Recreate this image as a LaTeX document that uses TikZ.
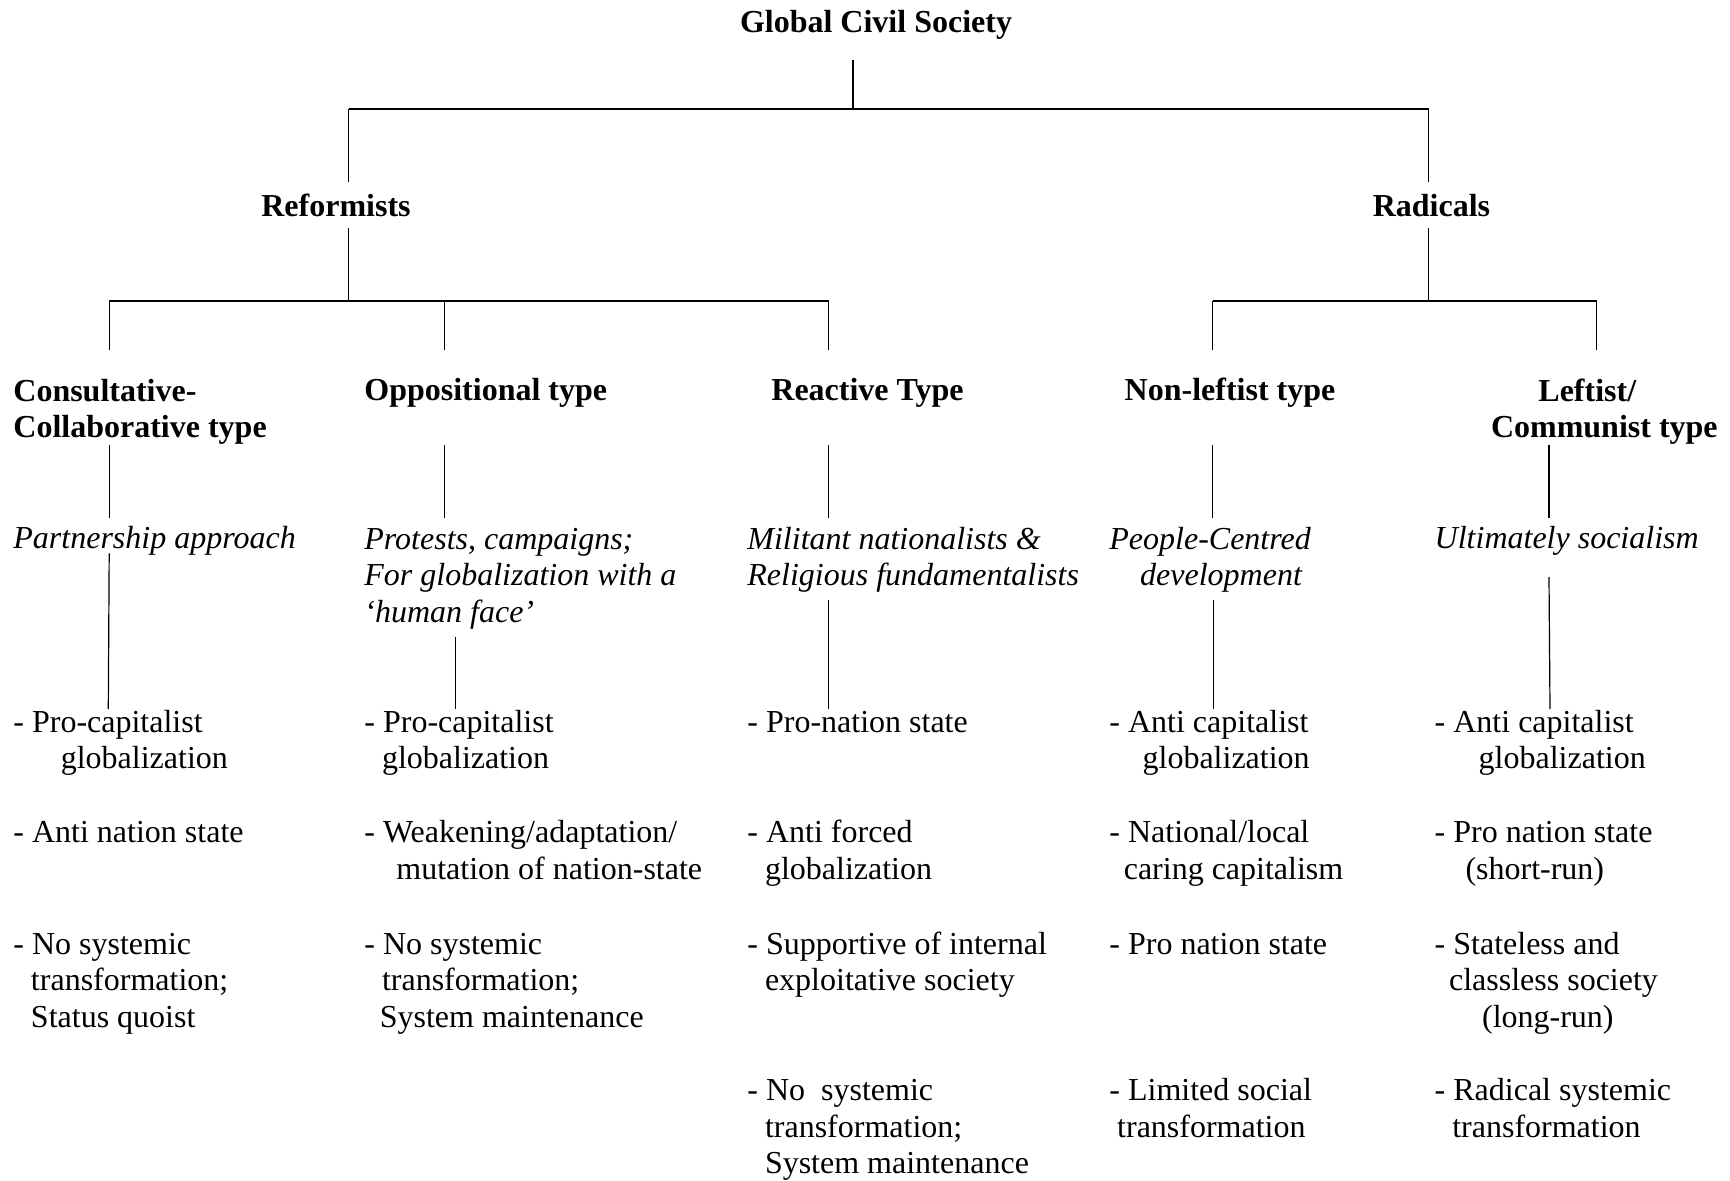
\documentclass[tikz,border=0pt]{standalone}
\usepackage{fontspec}
\setmainfont{Liberation Serif}

\begin{document}
\begin{tikzpicture}[
  x=0.5pt, y=-0.5pt,
  head/.style={font=\fontsize{16}{18.2}\selectfont\bfseries, inner sep=0pt, align=left},
  note/.style={font=\fontsize{16}{18.2}\selectfont\itshape, inner sep=0pt, align=left},
  item/.style={font=\fontsize{16}{18.2}\selectfont, inner sep=0pt, align=left, anchor=north west},
  ln/.style={line width=0.6pt},
  bar/.style={line width=0.9pt}]
  \useasboundingbox (0,0) rectangle (1730,1181);

  % levels 1 and 2
  \node[head, anchor=base] (gcs) at (876,32.5) {Global Civil Society};
  \node[head, anchor=base] (ref) at (336,217) {Reformists};
  \node[head, anchor=base] (rad) at (1431.5,217) {Radicals};

  % level 3: types
  \node[head, anchor=north west] (cons) at (13,375.5) {\strut Consultative-\\Collaborative type};
  \node[head, anchor=base west] (oppo) at (364,401) {Oppositional type};
  \node[head, anchor=base west] (reac) at (771,401) {Reactive Type};
  \node[head, anchor=base west] (nonl) at (1124.3,401) {Non-leftist type};
  \node[head, anchor=north west] (left) at (1490.6,375.5) {\strut\hspace*{23.7pt}Leftist/\\Communist type};

  % approaches
  \node[note, anchor=base west] (part) at (13,549) {Partnership approach};
  \node[note, anchor=north west] (prot) at (364,523.5) {\strut Protests, campaigns;\\For globalization with a\\`human face'};
  \node[note, anchor=north west] (mili) at (747,523.5) {\strut Militant nationalists \&\\Religious fundamentalists};
  \node[note, anchor=north west] (peop) at (1109,523.5) {\strut People-Centred\\\hspace*{15.4pt}development};
  \node[note, anchor=base west] (ulti) at (1434.3,549) {Ultimately socialism};

  % features, column by column
  \node[item] (cons-a) at (13,706.5) {\strut- Pro-capitalist\\\hspace*{23.7pt}globalization};
  \node[item] (cons-b) at (13,817) {\strut- Anti nation state};
  \node[item] (cons-c) at (13,928.5) {\strut- No systemic\\\hspace*{8.8pt}transformation;\\\hspace*{8.8pt}Status quoist};

  \node[item] (oppo-a) at (364,706.5) {\strut- Pro-capitalist\\\hspace*{8.8pt}globalization};
  \node[item] (oppo-b) at (364,817) {\strut- Weakening/adaptation/\\\hspace*{16pt}mutation of nation-state};
  \node[item] (oppo-c) at (364,928.5) {\strut- No systemic\\\hspace*{8.8pt}transformation;\\\hspace*{7.7pt}System maintenance};

  \node[item] (reac-a) at (747,706.5) {\strut- Pro-nation state};
  \node[item] (reac-b) at (747,817) {\strut- Anti forced\\\hspace*{8.8pt}globalization};
  \node[item] (reac-c) at (747,928.5) {\strut- Supportive of internal\\\hspace*{8.8pt}exploitative society};
  \node[item] (reac-d) at (747,1075) {\strut- No~~systemic\\\hspace*{8.8pt}transformation;\\\hspace*{8.8pt}System maintenance};

  \node[item] (nonl-a) at (1109,706.5) {\strut- Anti capitalist\\\hspace*{16.6pt}globalization};
  \node[item] (nonl-b) at (1109,817) {\strut- National/local\\\hspace*{7.2pt}caring capitalism};
  \node[item] (nonl-c) at (1109,928.5) {\strut- Pro nation state};
  \node[item] (nonl-d) at (1109,1075) {\strut- Limited social\\\hspace*{3.9pt}transformation};

  \node[item] (left-a) at (1434.3,706.5) {\strut- Anti capitalist\\\hspace*{22pt}globalization};
  \node[item] (left-b) at (1434.3,817) {\strut- Pro nation state\\\hspace*{15.4pt}(short-run)};
  \node[item] (left-c) at (1434.3,928.5) {\strut- Stateless and\\\hspace*{7.2pt}classless society\\\hspace*{23.7pt}(long-run)};
  \node[item] (left-d) at (1434.3,1075) {\strut- Radical systemic\\\hspace*{8.8pt}transformation};

  % tree lines
  \coordinate (gcs-s) at (853,60.5);
  \coordinate (top-j) at (853,109);
  \coordinate (ref-n) at (348.6,181.7);
  \coordinate (rad-n) at (1428.8,181.7);
  \draw[ln] (gcs-s) -- (top-j);
  \draw[bar] (ref-n |- top-j) -- (rad-n |- top-j);
  \draw[ln] (ref-n |- top-j) -- (ref-n);
  \draw[ln] (rad-n |- top-j) -- (rad-n);

  \coordinate (ref-s) at (348.6,228.3);
  \coordinate (rad-s) at (1428.8,228.3);
  \coordinate (low-j) at (348.6,301);
  \coordinate (cons-n) at (109.2,349.7);
  \coordinate (oppo-n) at (444.6,349.7);
  \coordinate (reac-n) at (828.6,349.7);
  \coordinate (nonl-n) at (1212.6,349.7);
  \coordinate (left-n) at (1596.5,349.7);
  \draw[ln] (ref-s) -- (low-j);
  \draw[ln] (rad-s) -- (rad-s |- low-j);
  \draw[bar] (cons-n |- low-j) -- (reac-n |- low-j);
  \draw[bar] (nonl-n |- low-j) -- (left-n |- low-j);
  \draw[ln] (cons-n |- low-j) -- (cons-n);
  \draw[ln] (oppo-n |- low-j) -- (oppo-n);
  \draw[ln] (reac-n |- low-j) -- (reac-n);
  \draw[ln] (nonl-n |- low-j) -- (nonl-n);
  \draw[ln] (left-n |- low-j) -- (left-n);

  % type to approach
  \draw[ln] (109.2,445) coordinate (cons-s) -- (109.2,517.7) coordinate (part-n);
  \draw[ln] (444.6,445) coordinate (oppo-s) -- (444.6,517.7) coordinate (prot-n);
  \draw[ln] (828.6,445) coordinate (reac-s) -- (828.6,517.7) coordinate (mili-n);
  \draw[ln] (1212.6,445) coordinate (nonl-s) -- (1212.6,517.7) coordinate (peop-n);
  \draw[ln] (1549,445) coordinate (left-s) -- (1549,517.7) coordinate (ulti-n);

  % approach to features
  \draw[ln] (109.2,553.3) coordinate (part-s) -- (108.3,709) coordinate (cons-a-n);
  \draw[ln] (455.7,636.7) coordinate (prot-s) -- (455.7,709) coordinate (oppo-a-n);
  \draw[ln] (828.6,600) coordinate (mili-s) -- (828.6,709) coordinate (reac-a-n);
  \draw[ln] (1213.7,600) coordinate (peop-s) -- (1213.7,709) coordinate (nonl-a-n);
  \draw[ln] (1549,577) coordinate (ulti-s) -- (1550,709) coordinate (left-a-n);
\end{tikzpicture}
\end{document}
